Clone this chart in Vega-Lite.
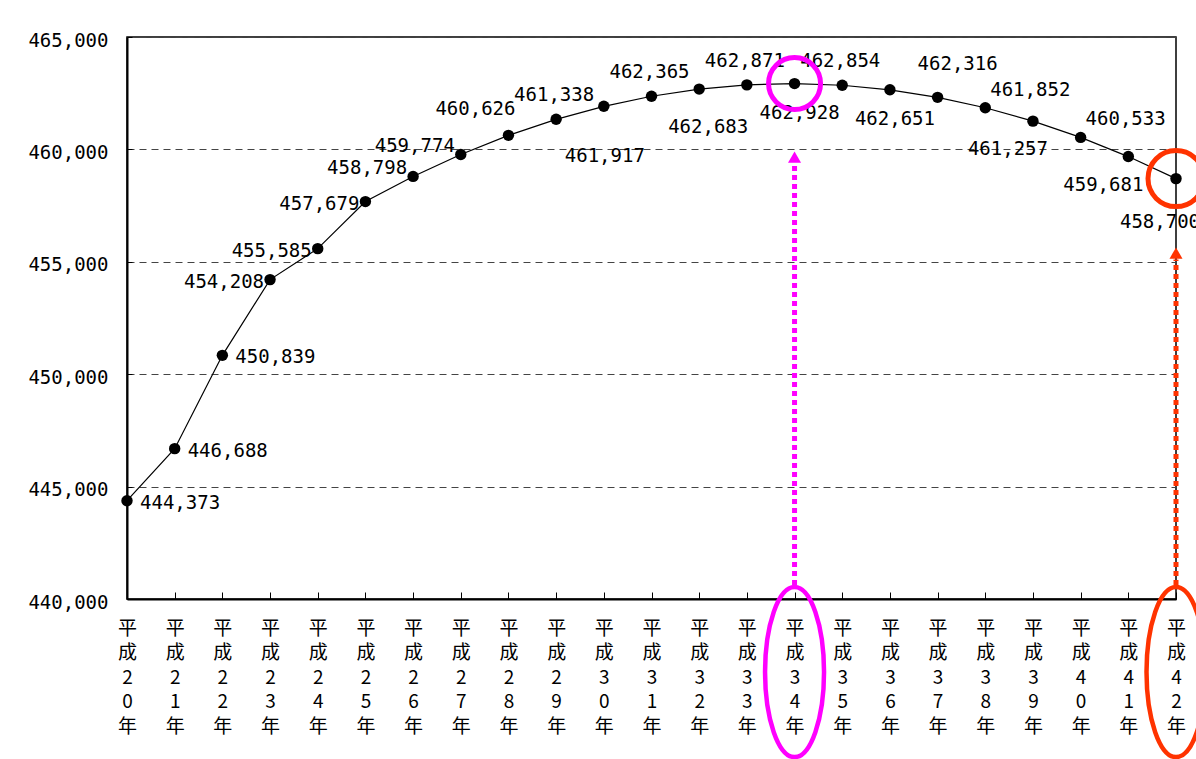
{
  "$schema": "https://vega.github.io/schema/vega-lite/v6.json",
  "width": 1049,
  "height": 562,
  "autosize": {"type": "none"},
  "padding": {"left": 127, "top": 37, "right": 20, "bottom": 160},
  "background": "white",
  "config": {"view": {"stroke": "black", "strokeWidth": 1.5}},
  "datasets": {
    "pop": [
      {"year": "平成20年", "value": 444373},
      {"year": "平成21年", "value": 446688},
      {"year": "平成22年", "value": 450839},
      {"year": "平成23年", "value": 454208},
      {"year": "平成24年", "value": 455585},
      {"year": "平成25年", "value": 457679},
      {"year": "平成26年", "value": 458798},
      {"year": "平成27年", "value": 459774},
      {"year": "平成28年", "value": 460626},
      {"year": "平成29年", "value": 461338},
      {"year": "平成30年", "value": 461917},
      {"year": "平成31年", "value": 462365},
      {"year": "平成32年", "value": 462683},
      {"year": "平成33年", "value": 462871},
      {"year": "平成34年", "value": 462928},
      {"year": "平成35年", "value": 462854},
      {"year": "平成36年", "value": 462651},
      {"year": "平成37年", "value": 462316},
      {"year": "平成38年", "value": 461852},
      {"year": "平成39年", "value": 461257},
      {"year": "平成40年", "value": 460533},
      {"year": "平成41年", "value": 459681},
      {"year": "平成42年", "value": 458700}
    ],
    "circles": [
      {"year": "平成34年", "value": 462928, "kind": "peak"},
      {"year": "平成42年", "value": 458700, "kind": "end"}
    ],
    "arrows": [
      {"year": "平成34年", "kind": "peak", "value": 440620, "to": 459400},
      {"year": "平成42年", "kind": "end", "value": 440620, "to": 455100}
    ],
    "heads": [
      {"year": "平成34年", "kind": "peak", "value": 459660},
      {"year": "平成42年", "kind": "end", "value": 455390}
    ],
    "ellipses": [
      {"year": "平成34年", "kind": "peak", "value": 436750},
      {"year": "平成42年", "kind": "end", "value": 436750}
    ]
  },
  "encoding": {
    "x": {
      "field": "year",
      "type": "ordinal",
      "scale": {"type": "point", "padding": 0},
      "axis": {
        "title": null,
        "labelAngle": 0,
        "labelExpr": "split(datum.label, '')",
        "labelFont": "Noto Sans CJK JP",
        "labelFontSize": 19,
        "labelLineHeight": 24.5,
        "labelBaseline": "top",
        "labelColor": "black",
        "labelPadding": 27,
        "tickSize": -7,
        "tickColor": "black",
        "domainColor": "black",
        "domainWidth": 2,
        "grid": false
      }
    },
    "y": {
      "field": "value",
      "type": "quantitative",
      "scale": {"domain": [440000, 465000], "nice": false, "zero": false},
      "axis": {
        "title": null,
        "values": [440000, 445000, 450000, 455000, 460000, 465000],
        "format": ",d",
        "labelFont": "DejaVu Sans Mono",
        "labelFontSize": 19,
        "labelColor": "black",
        "labelPadding": 24,
        "labelOffset": 3,
        "tickSize": -5,
        "tickColor": "black",
        "domainColor": "black",
        "domainWidth": 2,
        "grid": true,
        "gridDash": [7, 5],
        "gridColor": "#444444",
        "gridWidth": 1
      }
    }
  },
  "layer": [
    {"data": {"name": "pop"}, "mark": {"type": "line", "color": "black", "strokeWidth": 1.2}},
    {"data": {"name": "pop"}, "mark": {"type": "point", "shape": "circle", "filled": true, "color": "black", "size": 130, "opacity": 1}},
    {"data": {"name": "pop"}, "transform": [{"filter": {"field": "year", "oneOf": ["平成20年", "平成21年", "平成22年"]}}],
     "mark": {"type": "text", "font": "DejaVu Sans Mono", "fontSize": 19, "color": "black", "align": "left", "baseline": "middle", "dx": 13, "dy": 2},
     "encoding": {"text": {"field": "value", "type": "quantitative", "format": ","}}},
    {"data": {"name": "pop"}, "transform": [{"filter": {"field": "year", "oneOf": ["平成23年", "平成24年", "平成25年"]}}],
     "mark": {"type": "text", "font": "DejaVu Sans Mono", "fontSize": 19, "color": "black", "align": "right", "baseline": "middle", "dx": -6, "dy": 2},
     "encoding": {"text": {"field": "value", "type": "quantitative", "format": ","}}},
    {"data": {"name": "pop"}, "transform": [{"filter": {"field": "year", "oneOf": ["平成26年", "平成27年"]}}],
     "mark": {"type": "text", "font": "DejaVu Sans Mono", "fontSize": 19, "color": "black", "align": "center", "baseline": "middle", "dx": -46, "dy": -8},
     "encoding": {"text": {"field": "value", "type": "quantitative", "format": ","}}},
    {"data": {"name": "pop"}, "transform": [{"filter": {"field": "year", "oneOf": ["平成28年"]}}],
     "mark": {"type": "text", "font": "DejaVu Sans Mono", "fontSize": 19, "color": "black", "align": "center", "baseline": "middle", "dx": -33, "dy": -26},
     "encoding": {"text": {"field": "value", "type": "quantitative", "format": ","}}},
    {"data": {"name": "pop"}, "transform": [{"filter": {"field": "year", "oneOf": ["平成29年", "平成31年", "平成33年", "平成35年"]}}],
     "mark": {"type": "text", "font": "DejaVu Sans Mono", "fontSize": 19, "color": "black", "align": "center", "baseline": "middle", "dx": -2, "dy": -24},
     "encoding": {"text": {"field": "value", "type": "quantitative", "format": ","}}},
    {"data": {"name": "pop"}, "transform": [{"filter": {"field": "year", "oneOf": ["平成37年"]}}],
     "mark": {"type": "text", "font": "DejaVu Sans Mono", "fontSize": 19, "color": "black", "align": "center", "baseline": "middle", "dx": 20, "dy": -33},
     "encoding": {"text": {"field": "value", "type": "quantitative", "format": ","}}},
    {"data": {"name": "pop"}, "transform": [{"filter": {"field": "year", "oneOf": ["平成38年", "平成40年"]}}],
     "mark": {"type": "text", "font": "DejaVu Sans Mono", "fontSize": 19, "color": "black", "align": "center", "baseline": "middle", "dx": 45, "dy": -18},
     "encoding": {"text": {"field": "value", "type": "quantitative", "format": ","}}},
    {"data": {"name": "pop"}, "transform": [{"filter": {"field": "year", "oneOf": ["平成34年", "平成36年"]}}],
     "mark": {"type": "text", "font": "DejaVu Sans Mono", "fontSize": 19, "color": "black", "align": "center", "baseline": "middle", "dx": 5, "dy": 29},
     "encoding": {"text": {"field": "value", "type": "quantitative", "format": ","}}},
    {"data": {"name": "pop"}, "transform": [{"filter": {"field": "year", "oneOf": ["平成32年"]}}],
     "mark": {"type": "text", "font": "DejaVu Sans Mono", "fontSize": 19, "color": "black", "align": "center", "baseline": "middle", "dx": 9, "dy": 38},
     "encoding": {"text": {"field": "value", "type": "quantitative", "format": ","}}},
    {"data": {"name": "pop"}, "transform": [{"filter": {"field": "year", "oneOf": ["平成30年"]}}],
     "mark": {"type": "text", "font": "DejaVu Sans Mono", "fontSize": 19, "color": "black", "align": "center", "baseline": "middle", "dx": 1, "dy": 50},
     "encoding": {"text": {"field": "value", "type": "quantitative", "format": ","}}},
    {"data": {"name": "pop"}, "transform": [{"filter": {"field": "year", "oneOf": ["平成39年", "平成41年"]}}],
     "mark": {"type": "text", "font": "DejaVu Sans Mono", "fontSize": 19, "color": "black", "align": "center", "baseline": "middle", "dx": -25, "dy": 28},
     "encoding": {"text": {"field": "value", "type": "quantitative", "format": ","}}},
    {"data": {"name": "pop"}, "transform": [{"filter": {"field": "year", "oneOf": ["平成42年"]}}],
     "mark": {"type": "text", "font": "DejaVu Sans Mono", "fontSize": 19, "color": "black", "align": "center", "baseline": "middle", "dx": -16, "dy": 43},
     "encoding": {"text": {"field": "value", "type": "quantitative", "format": ","}}},
    {"data": {"name": "circles"}, "transform": [{"filter": {"field": "kind", "equal": "peak"}}],
     "mark": {"type": "point", "shape": "circle", "filled": false, "strokeWidth": 5, "size": 2704, "opacity": 1},
     "encoding": {"color": {"field": "kind", "type": "nominal", "scale": {"domain": ["peak", "end"], "range": ["#FF00FF", "#FF3300"]}, "legend": null}}},
    {"data": {"name": "circles"}, "transform": [{"filter": {"field": "kind", "equal": "end"}}],
     "mark": {"type": "point", "shape": "circle", "filled": false, "strokeWidth": 5, "size": 3136, "opacity": 1},
     "encoding": {"color": {"field": "kind", "type": "nominal", "scale": {"domain": ["peak", "end"], "range": ["#FF00FF", "#FF3300"]}, "legend": null}}},
    {"data": {"name": "arrows"},
     "mark": {"type": "rule", "strokeWidth": 5, "strokeDash": [5, 4], "strokeCap": "butt"},
     "encoding": {
       "y2": {"field": "to"},
       "color": {"field": "kind", "type": "nominal", "scale": {"domain": ["peak", "end"], "range": ["#FF00FF", "#FF3300"]}, "legend": null}}},
    {"data": {"name": "heads"},
     "mark": {"type": "point", "shape": "triangle-up", "filled": true, "size": 170, "opacity": 1},
     "encoding": {
       "color": {"field": "kind", "type": "nominal", "scale": {"domain": ["peak", "end"], "range": ["#FF00FF", "#FF3300"]}, "legend": null}}},
    {"data": {"name": "ellipses"},
     "mark": {"type": "point", "shape": "M0,-1C0.19,-1 0.347,-0.552 0.347,0C0.347,0.552 0.19,1 0,1C-0.19,1 -0.347,0.552 -0.347,0C-0.347,-0.552 -0.19,-1 0,-1Z", "filled": false, "strokeWidth": 4.5, "size": 28900, "opacity": 1},
     "encoding": {"color": {"field": "kind", "type": "nominal", "scale": {"domain": ["peak", "end"], "range": ["#FF00FF", "#FF3300"]}, "legend": null}}}
  ]
}
